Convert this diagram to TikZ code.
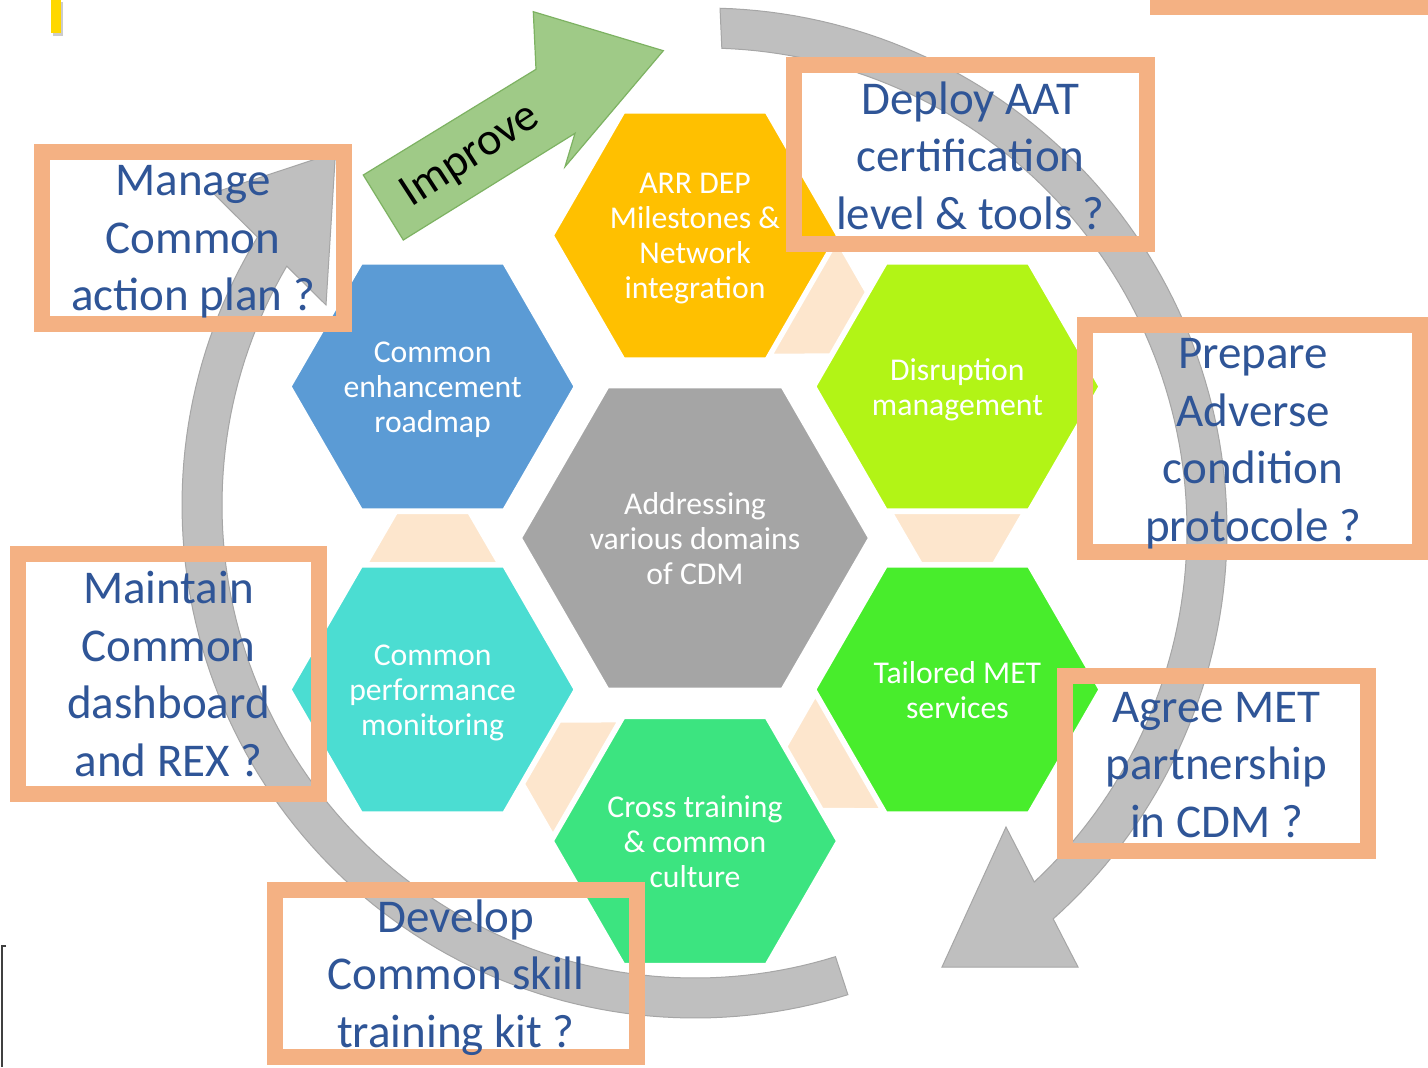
\documentclass[tikz,border=0pt]{standalone}
\usepackage{fontspec}
\setmainfont{Carlito}
\usetikzlibrary{shapes.geometric}
\definecolor{hexorange}{HTML}{FFC000}
\definecolor{hexblue}{HTML}{5B9BD5}
\definecolor{hexgray}{HTML}{A5A5A5}
\definecolor{hexlime}{HTML}{B2F416}
\definecolor{hexteal}{HTML}{4BDDD2}
\definecolor{hexgreen}{HTML}{48ED2C}
\definecolor{hexmint}{HTML}{3CE480}
\definecolor{peach}{HTML}{FDE6CD}
\definecolor{boxorange}{HTML}{F4B183}
\definecolor{boxtext}{HTML}{2F5597}
\definecolor{arcgray}{HTML}{BFBFBF}
\definecolor{arcedge}{HTML}{A6A6A6}
\definecolor{impfill}{HTML}{9FCA87}
\definecolor{impedge}{HTML}{7DB262}
\definecolor{markyellow}{HTML}{FFD800}
\begin{document}
\begin{tikzpicture}[x=0.5pt,y=-0.5pt,
  hexsmall/.style={regular polygon,regular polygon sides=6,minimum size=142.5pt,inner sep=0pt,outer sep=0pt,draw=white,line width=1.5pt},
  hexbig/.style={hexsmall,minimum size=174.5pt},
  hextext/.style={text=white,align=center,inner sep=0pt,font=\fontsize{15.85pt}{17.5pt}\selectfont,execute at begin node=\strut,execute at end node=\strut},
  conn/.style={fill=peach,draw=white,line width=1pt},
  grayarrow/.style={fill=arcgray,draw=arcedge,line width=0.5pt,line join=miter},
  improvearrow/.style={fill=impfill,draw=impedge,line width=0.6pt},
  qframe/.style={draw=boxorange,line width=8pt},
  qtext/.style={text=boxtext,align=center,inner sep=0pt,font=\fontsize{23.5pt}{28.75pt}\selectfont,execute at begin node=\strut,execute at end node=\strut},
]
\fill[white] (0,0) rectangle (1428,1067);
\useasboundingbox (0,0) rectangle (1428,1067);

% hexagons
\node[hexbig,fill=hexgray] (hCenter) at (695,538) {};
\node[hexsmall,fill=hexorange] (hARR) at (695,235.5) {};
\node[hexsmall,fill=hexblue] (hRoad) at (432.6,386.5) {};
\node[hexsmall,fill=hexlime] (hDisr) at (957.4,386.5) {};
\node[hexsmall,fill=hexteal] (hPerf) at (432.6,689.5) {};
\node[hexsmall,fill=hexgreen] (hMET) at (957.4,689.5) {};
\node[hexsmall,fill=hexmint] (hCross) at (695,841) {};

% connector trapezoids
\path[conn] (396.6,513) -- (468.6,513) -- (497.6,563) -- (367.6,563) -- cycle;
\path[conn] (865.85,292.08) -- (829.85,354.44) -- (772.05,354.55) -- (837.05,241.97) -- cycle;
\path[conn] (921.4,563) -- (993.4,563) -- (1022.4,513) -- (892.4,513) -- cycle;
\path[conn] (822.55,808.92) -- (786.55,746.56) -- (815.35,696.45) -- (880.35,809.03) -- cycle;
\path[conn] (524.15,783.92) -- (560.15,721.56) -- (617.95,721.45) -- (552.95,834.03) -- cycle;

% circular arrows
\path[grayarrow] plot[domain=-88.35:48.16,samples=100,variable=\t] ({705+522*cos(\t)},{530+522*sin(\t)})
  -- (1078,967) -- (942,967) -- (1006,827)
  -- plot[domain=0:1,samples=100,variable=\s] ({705+482*cos(46.91-135.11*\s)},{530+482*sin(46.91-135.11*\s)}) -- cycle;
\path[grayarrow] plot[domain=72.66:211.48,samples=100,variable=\t] ({695+513*cos(\t)},{505+513*sin(\t)})
  -- (213,193) -- (335.5,152.5) -- (326,305)
  -- plot[domain=0:1,samples=100,variable=\s] ({695+473*cos(210.33-137.81*\s)},{505+473*sin(210.33-137.81*\s)}) -- cycle;

% improve arrow
\path[improvearrow] (363.3,175) -- (536,69.3) -- (533.3,11.7) -- (663.3,50.7) -- (565,166.7) -- (575,133.3) -- (403.3,240) -- cycle;
\node[rotate=33,inner sep=0pt,font=\fontsize{23pt}{27pt}\selectfont] (tImprove) at (471,156) {Improve};

% question frames
\draw[qframe] (42,152) rectangle (344,324);
\draw[qframe] (794,65) rectangle (1147,244);
\draw[qframe] (1085,325) rectangle (1420,552);
\draw[qframe] (1065,676) rectangle (1368,851);
\draw[qframe] (18,554) rectangle (319,794);
\draw[qframe] (275,890) rectangle (637,1057);
\fill[boxorange] (1150,0) rectangle (1428,15);

% hexagon texts
\node[hextext] (tCenter) at (695,544) {Addressing\\various domains\\of CDM};
\node[hextext] (tARR) at (695,241.5) {ARR DEP\\Milestones \&\\Network\\integration};
\node[hextext] (tRoad) at (432.6,392.5) {Common\\enhancement\\roadmap};
\node[hextext] (tDisr) at (957.4,392.5) {Disruption\\management};
\node[hextext] (tPerf) at (432.6,695.5) {Common\\performance\\monitoring};
\node[hextext] (tMET) at (957.4,695.5) {Tailored MET\\services};
\node[hextext] (tCross) at (695,847) {Cross training\\\& common\\culture};

% question texts
\node[qtext] (qManage) at (193,247) {Manage\\Common\\action plan ?};
\node[qtext] (qDeploy) at (970.5,164) {Deploy AAT\\certification\\level \& tools ?};
\node[qtext] (qPrepare) at (1253,448.5) {Prepare\\Adverse\\condition\\protocole ?};
\node[qtext] (qAgree) at (1216.5,773.5) {Agree MET\\partnership\\in CDM ?};
\node[qtext] (qMaintain) at (168.5,682.5) {Maintain\\Common\\dashboard\\and REX ?};
\node[qtext] (qDevelop) at (456,982) {Develop\\Common skill\\training kit ?};

% stray marks
\fill[black!20] (53,2) rectangle (63,36);
\fill[markyellow] (51,0) rectangle (61,33);
\draw[line width=1pt,black!75] (6,946) -- (1.5,946) -- (1.5,1067);
\end{tikzpicture}
\end{document}
